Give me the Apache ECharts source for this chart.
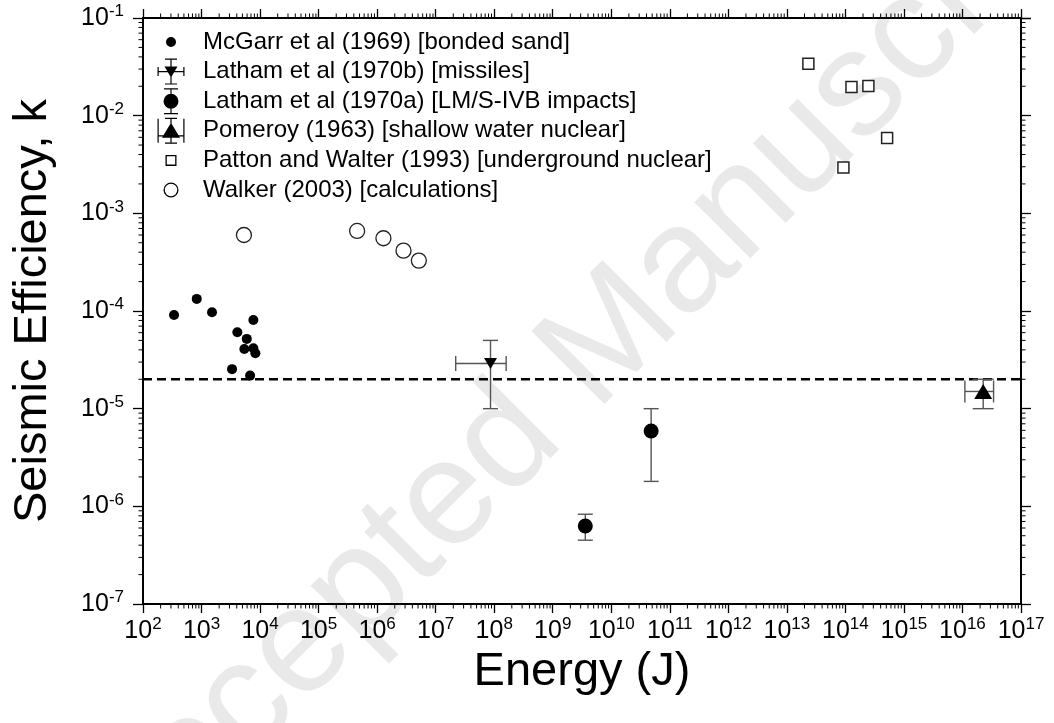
<!DOCTYPE html>
<html><head><meta charset="utf-8">
<script src="https://cdn.jsdelivr.net/npm/echarts@6/dist/echarts.min.js"></script>
<style>html,body{margin:0;padding:0;background:#fff}#c{width:1054px;height:723px}</style>
</head><body><div id="c"></div>
<script>
const FONT = '"Liberation Sans", Arial, Helvetica, sans-serif';

// ---- axis ranges ----
const xRange = [1e2, 1e17];
const yRange = [1e-7, 1e-1];
const minorFactors = [2, 3, 4, 5, 6, 7, 8, 9];

// ---- series names ----
const seriesNames = [
  'McGarr et al (1969) [bonded sand]',
  'Latham et al (1970b) [missiles]',
  'Latham et al (1970a) [LM/S-IVB impacts]',
  'Pomeroy (1963) [shallow water nuclear]',
  'Patton and Walter (1993) [underground nuclear]',
  'Walker (2003) [calculations]'
];

// ---- data ----
const mcgarrEnergy = [339, 828, 1510, 7680, 4090, 5930, 5390, 7680, 8310, 3320, 6750];
const mcgarrK = [9.1e-5, 1.33e-4, 9.7e-5, 8.1e-5, 6.07e-5, 5.18e-5, 4.09e-5, 4.16e-5, 3.7e-5, 2.54e-5, 2.18e-5];

const missileEnergy = [8.65e7];
const missileK = [2.9e-5];
const missileEnergyLow = [2.2e7];
const missileEnergyHigh = [1.6e8];
const missileKLow = [1.0e-5];
const missileKHigh = [5.0e-5];

const lunarEnergy = [3.6e9, 4.8e10];
const lunarK = [6.3e-7, 5.9e-6];
const lunarKLow = [4.5e-7, 1.8e-6];
const lunarKHigh = [8.3e-7, 1.0e-5];

const pomeroyEnergy = [2.26e16];
const pomeroyK = [1.5e-5];
const pomeroyEnergyLow = [1.1e16];
const pomeroyEnergyHigh = [3.4e16];
const pomeroyKLow = [1.0e-5];
const pomeroyKHigh = [2.0e-5];

const pattonEnergy = [2.33e13, 1.27e14, 2.47e14, 5.16e14, 9.25e13];
const pattonK = [0.034, 0.0197, 0.0201, 0.0059, 0.00294];

const walkerEnergy = [5300, 4.55e5, 1.28e6, 2.82e6, 5.16e6];
const walkerK = [6.0e-4, 6.6e-4, 5.56e-4, 4.15e-4, 3.28e-4];

const referenceK = 2e-5;

// ---- helpers ----
const zip = (a, b) => a.map((v, i) => [v, b[i]]);
function errRows(xs, ys, xl, xh, yl, yh) {
  return xs.map((x, i) => [x, ys[i], xl ? xl[i] : 0, xh ? xh[i] : 0, yl ? yl[i] : 0, yh ? yh[i] : 0]);
}
function errorRenderer(capV, capH, color) {
  return function (params, api) {
    const x = api.value(0), y = api.value(1);
    const xl = api.value(2), xh = api.value(3), yl = api.value(4), yh = api.value(5);
    const st = { stroke: color, lineWidth: 1.4 };
    const ch = [];
    const L = (x1, y1, x2, y2) => ch.push({ type: 'line', shape: { x1, y1, x2, y2 }, style: st });
    if (yl > 0 && yh > 0) {
      const a = api.coord([x, yh]), b = api.coord([x, yl]);
      L(a[0], a[1], b[0], b[1]);
      L(a[0] - capV / 2, a[1], a[0] + capV / 2, a[1]);
      L(b[0] - capV / 2, b[1], b[0] + capV / 2, b[1]);
    }
    if (xl > 0 && xh > 0) {
      const a = api.coord([xl, y]), b = api.coord([xh, y]);
      L(a[0], a[1], b[0], b[1]);
      L(a[0], a[1] - capH / 2, a[0], a[1] + capH / 2);
      L(b[0], b[1] - capH / 2, b[0], b[1] + capH / 2);
    }
    return { type: 'group', children: ch };
  };
}
function minorTickRenderer(params, api) {
  const st = { stroke: '#000', lineWidth: 1 };
  const len = 4.5;
  const ch = [];
  const bl = api.coord([xRange[0], yRange[0]]);
  const tr = api.coord([xRange[1], yRange[1]]);
  const lo = Math.round(Math.log10(xRange[0])), hi = Math.round(Math.log10(xRange[1]));
  for (let e = lo; e < hi; e++) {
    minorFactors.forEach(f => {
      const px = api.coord([f * Math.pow(10, e), yRange[0]])[0];
      ch.push({ type: 'line', shape: { x1: px, y1: bl[1], x2: px, y2: bl[1] + len }, style: st });
      ch.push({ type: 'line', shape: { x1: px, y1: tr[1], x2: px, y2: tr[1] - len }, style: st });
    });
  }
  const ylo = Math.round(Math.log10(yRange[0])), yhi = Math.round(Math.log10(yRange[1]));
  for (let e = ylo; e < yhi; e++) {
    minorFactors.forEach(f => {
      const py = api.coord([xRange[0], f * Math.pow(10, e)])[1];
      ch.push({ type: 'line', shape: { x1: bl[0], y1: py, x2: bl[0] - len, y2: py }, style: st });
      ch.push({ type: 'line', shape: { x1: tr[0], y1: py, x2: tr[0] + len, y2: py }, style: st });
    });
  }
  return { type: 'group', children: ch };
}

// ---- legend icons (54 x 26 box) ----
const corners = 'M0 0L0.01 0L0.01 0.01L0 0.01Z M53.99 25.99L54 25.99L54 26L53.99 26Z ';
const R = (x, y, w, h) => `M${x} ${y}L${x + w} ${y}L${x + w} ${y + h}L${x} ${y + h}Z `;
const Rccw = (x, y, w, h) => `M${x} ${y}L${x} ${y + h}L${x + w} ${y + h}L${x + w} ${y}Z `;
const C = (cx, cy, r) => `M${cx - r} ${cy}A${r} ${r} 0 1 1 ${cx + r} ${cy}A${r} ${r} 0 1 1 ${cx - r} ${cy}Z `;
const Cccw = (cx, cy, r) => `M${cx - r} ${cy}A${r} ${r} 0 1 0 ${cx + r} ${cy}A${r} ${r} 0 1 0 ${cx - r} ${cy}Z `;
const icons = [
  corners + C(27, 13, 5),
  corners + R(26.4, 0, 1.2, 26) + R(21, 0, 12, 1.2) + R(21, 24.8, 12, 1.2) +
    R(13.5, 12.4, 27, 1.2) + R(13.5, 8.5, 1.2, 9) + R(39.3, 8.5, 1.2, 9) + 'M20.5 8L33.5 8L27 19Z ',
  corners + R(26.4, 0, 1.2, 26) + R(20, 0, 14, 1.2) + R(20, 24.8, 14, 1.2) + C(27, 13, 7.5),
  corners + R(26.4, 0, 1.2, 26) + R(21, 0, 12, 1.2) + R(21, 24.8, 12, 1.2) +
    R(13.5, 17.4, 27, 1.2) + R(13.5, 1, 1.2, 24) + R(39.3, 1, 1.2, 24) + 'M27 5L36 20L18 20Z ',
  corners + R(21.5, 7.5, 11, 11) + Rccw(22.8, 8.8, 8.4, 8.4),
  corners + C(27, 13, 7.5) + Cccw(27, 13, 6.2)
];

const tickLabel = {
  fontFamily: FONT,
  formatter: v => '{b|10}{s|' + Math.round(Math.log10(v)) + '}',
  rich: {
    b: { fontSize: 25, fontFamily: FONT, color: '#000', lineHeight: 30 },
    s: { fontSize: 17, fontFamily: FONT, color: '#000', lineHeight: 16, verticalAlign: 'top' }
  }
};
const axisLineStyle = { show: true, lineStyle: { color: '#000', width: 2 } };
const majorTick = { show: true, inside: false, length: 9, lineStyle: { color: '#000', width: 1.3 } };
const solid = c => ({ color: c, opacity: 1 });

const chart = echarts.init(document.getElementById('c'), null, { renderer: 'canvas' });
chart.setOption({
  animation: false,
  backgroundColor: '#fff',
  graphic: [{
    type: 'text', x: 590, y: 360, rotation: Math.PI / 4, z: -10, silent: true,
    style: { text: 'Accepted Manuscript', fontSize: 150, fontFamily: FONT, fill: '#e9e9e9', align: 'center', verticalAlign: 'middle' }
  }],
  grid: { left: 143, right: 33, top: 18, bottom: 119, containLabel: false, outerBoundsMode: 'none' },
  legend: {
    orient: 'vertical', left: 144, top: 29, itemWidth: 54, itemHeight: 26, itemGap: 3.6,
    selectedMode: false, padding: 0,
    textStyle: { fontFamily: FONT, fontSize: 24, color: '#000', lineHeight: 26 },
    data: seriesNames.map((n, i) => ({ name: n, icon: 'path://' + icons[i], itemStyle: { color: '#000', borderWidth: 0, opacity: 1 } }))
  },
  xAxis: [{
    type: 'log', logBase: 10, min: xRange[0], max: xRange[1], interval: 1, splitNumber: 15, position: 'bottom',
    name: 'Energy (J)', nameLocation: 'middle', nameGap: 34,
    nameTextStyle: { fontFamily: FONT, fontSize: 47, color: '#000' },
    axisLine: axisLineStyle, axisTick: majorTick, splitLine: { show: false }, minorTick: { show: false },
    axisLabel: Object.assign({ margin: 12, showMinLabel: true, showMaxLabel: true, hideOverlap: false }, tickLabel)
  }, {
    type: 'log', logBase: 10, min: xRange[0], max: xRange[1], interval: 1, splitNumber: 15, position: 'top',
    axisLine: axisLineStyle, axisTick: majorTick, splitLine: { show: false }, axisLabel: { show: false }
  }],
  yAxis: [{
    type: 'log', logBase: 10, min: yRange[0], max: yRange[1], interval: 1, splitNumber: 6, position: 'left',
    name: 'Seismic Efficiency, k', nameLocation: 'middle', nameGap: 86, nameRotate: 90,
    nameTextStyle: { fontFamily: FONT, fontSize: 47, color: '#000' },
    axisLine: axisLineStyle, axisTick: Object.assign({}, majorTick, { length: 10 }), splitLine: { show: false },
    axisLabel: Object.assign({ margin: 19, showMinLabel: true, showMaxLabel: true }, tickLabel)
  }, {
    type: 'log', logBase: 10, min: yRange[0], max: yRange[1], interval: 1, splitNumber: 6, position: 'right',
    axisLine: axisLineStyle, axisTick: Object.assign({}, majorTick, { length: 10 }), splitLine: { show: false }, axisLabel: { show: false }
  }],
  series: [
    {
      type: 'custom', name: 'minor ticks', silent: true, clip: false, z: 4,
      xAxisIndex: 0, yAxisIndex: 0, encode: { x: 0, y: 1 },
      data: [[xRange[0], yRange[0]]], renderItem: minorTickRenderer
    },
    {
      type: 'line', name: 'reference k', silent: true, z: 3,
      data: [[xRange[0], referenceK], [xRange[1], referenceK]],
      symbol: 'none', lineStyle: { color: '#000', width: 2.6, type: [9, 5], opacity: 1 }
    },
    {
      type: 'scatter', name: seriesNames[0], data: zip(mcgarrEnergy, mcgarrK),
      symbol: 'circle', symbolSize: 10, itemStyle: solid('#000'), z: 5
    },
    {
      type: 'custom', name: seriesNames[1], z: 4, encode: { x: 0, y: 1 }, silent: true,
      data: errRows(missileEnergy, missileK, missileEnergyLow, missileEnergyHigh, missileKLow, missileKHigh),
      renderItem: errorRenderer(15, 15, '#555')
    },
    {
      type: 'scatter', name: seriesNames[1], data: zip(missileEnergy, missileK),
      symbol: 'triangle', symbolRotate: 180, symbolSize: [13, 11], itemStyle: solid('#000'), z: 5
    },
    {
      type: 'custom', name: seriesNames[2], z: 4, encode: { x: 0, y: 1 }, silent: true,
      data: errRows(lunarEnergy, lunarK, null, null, lunarKLow, lunarKHigh),
      renderItem: errorRenderer(15, 15, '#555')
    },
    {
      type: 'scatter', name: seriesNames[2], data: zip(lunarEnergy, lunarK),
      symbol: 'circle', symbolSize: 15, itemStyle: solid('#000'), z: 5
    },
    {
      type: 'custom', name: seriesNames[3], z: 4, encode: { x: 0, y: 1 }, silent: true,
      data: errRows(pomeroyEnergy, pomeroyK, pomeroyEnergyLow, pomeroyEnergyHigh, pomeroyKLow, pomeroyKHigh),
      renderItem: errorRenderer(21, 22, '#555')
    },
    {
      type: 'scatter', name: seriesNames[3], data: zip(pomeroyEnergy, pomeroyK),
      symbol: 'triangle', symbolSize: [18, 15], itemStyle: solid('#000'), z: 5
    },
    {
      type: 'scatter', name: seriesNames[4], data: zip(pattonEnergy, pattonK),
      symbol: 'rect', symbolSize: 11, itemStyle: { color: '#fff', opacity: 1, borderColor: '#222', borderWidth: 1.5 }, z: 5
    },
    {
      type: 'scatter', name: seriesNames[5], data: zip(walkerEnergy, walkerK),
      symbol: 'circle', symbolSize: 15, itemStyle: { color: '#fff', opacity: 1, borderColor: '#222', borderWidth: 1.3 }, z: 5
    }
  ]
});
</script>
</body></html>
